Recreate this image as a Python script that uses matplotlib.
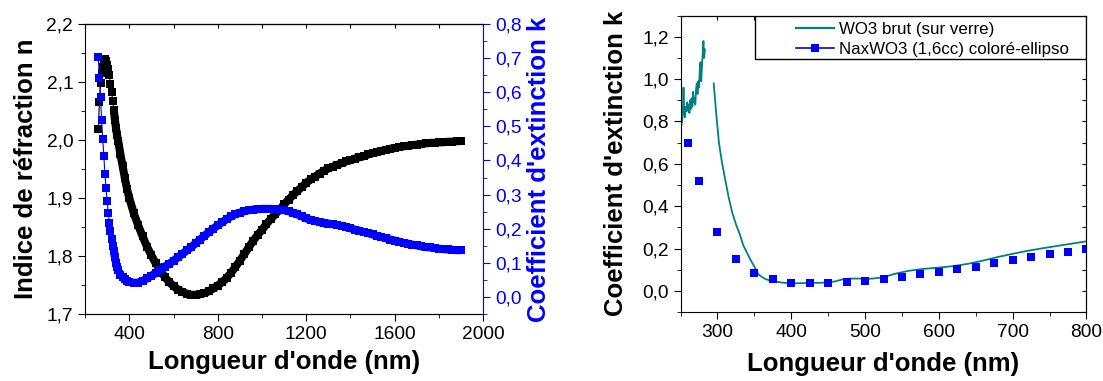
import numpy as np
import matplotlib.pyplot as plt
from matplotlib.ticker import MultipleLocator, FuncFormatter
from matplotlib.lines import Line2D
from matplotlib.patches import Rectangle

plt.rcParams['font.family'] = ['Liberation Sans', 'DejaVu Sans']

# --- left panel: n and k of the film vs wavelength (ellipsometry) ---
wl_ell = [260, 265, 270, 275, 280, 285, 290, 295, 300, 305, 310, 315, 320, 325, 330, 335, 340, 345, 350,
          360, 370, 380, 390, 400,
          420, 440, 460, 480, 500, 520, 540, 560, 580, 600, 620, 640, 660, 680, 700, 720, 740, 760, 780, 800,
          820, 840, 860, 880, 900, 920, 940, 960, 980, 1000, 1020, 1040, 1060, 1080, 1100, 1120, 1140, 1160, 1180,
          1200, 1220, 1240, 1260, 1280, 1300, 1320, 1340, 1360, 1380, 1400, 1420, 1440, 1460, 1480, 1500, 1520,
          1540, 1560, 1580, 1600, 1620, 1640, 1660, 1680, 1700, 1720, 1740, 1760, 1780, 1800, 1820, 1840, 1860,
          1880, 1900]
n_ell = [2.019, 2.066, 2.098, 2.115, 2.126, 2.135, 2.139, 2.137, 2.130, 2.122, 2.112, 2.096, 2.082, 2.068, 2.052,
         2.035, 2.020, 2.008, 1.998,
         1.975, 1.955, 1.934, 1.915, 1.900,
         1.874, 1.853, 1.834, 1.816, 1.801, 1.787, 1.775, 1.764, 1.755, 1.748, 1.742, 1.738, 1.735, 1.733, 1.733,
         1.734, 1.736, 1.739, 1.744, 1.749, 1.755, 1.762, 1.771, 1.781, 1.792, 1.803, 1.815, 1.826, 1.836, 1.845,
         1.855, 1.864, 1.872, 1.880, 1.889, 1.897, 1.905, 1.912, 1.919,
         1.926, 1.932, 1.937, 1.942, 1.947, 1.951, 1.954, 1.957, 1.960, 1.963, 1.965, 1.968, 1.970, 1.972, 1.975,
         1.977, 1.979, 1.981, 1.983, 1.985, 1.986, 1.988, 1.989, 1.990, 1.991, 1.992, 1.993, 1.994, 1.995, 1.995,
         1.996, 1.996, 1.997, 1.997, 1.998, 1.998]
k_ell = [0.702, 0.641, 0.585, 0.518, 0.462, 0.412, 0.360, 0.318, 0.282, 0.247, 0.218, 0.193, 0.170, 0.150, 0.135,
         0.116, 0.100, 0.088, 0.078,
         0.065, 0.057, 0.051, 0.047, 0.044,
         0.041, 0.042, 0.047, 0.054, 0.062, 0.070, 0.079, 0.088, 0.097, 0.106, 0.116, 0.126, 0.136, 0.146, 0.157,
         0.168, 0.179, 0.190, 0.200, 0.210, 0.219, 0.228, 0.236, 0.242, 0.247, 0.251, 0.254, 0.256, 0.257, 0.258,
         0.258, 0.258, 0.257, 0.256, 0.254, 0.251, 0.247, 0.242, 0.236,
         0.230, 0.226, 0.223, 0.219, 0.217, 0.215, 0.213, 0.211, 0.208, 0.205, 0.201, 0.197, 0.194, 0.190, 0.187,
         0.183, 0.179, 0.176, 0.172, 0.168, 0.165, 0.162, 0.158, 0.156, 0.153, 0.151, 0.148, 0.146, 0.145, 0.143,
         0.141, 0.140, 0.139, 0.138, 0.137, 0.137]

# --- right panel: k of raw WO3 (on glass) vs coloured NaxWO3 ---
wl_brut = [251, 252, 253, 254, 255, 256, 257, 258, 259, 260, 261, 262, 263, 264, 265, 266, 267, 268, 269, 270,
           271, 272, 273, 274, 275, 276, 277, 278, 279, 280, 281, 282, 283, 289,
           295, 298, 302, 306, 310, 315, 320, 325, 330, 335, 340, 345, 350, 355, 360, 365, 370, 380, 390, 400,
           410, 420, 430, 440, 450, 460, 470, 480, 490, 500, 510, 520, 530, 540, 550, 560, 570, 580, 590, 600,
           620, 640, 660, 680, 700, 720, 740, 760, 780, 800]
k_brut = [0.78, 0.80, 0.83, 0.96, 0.84, 0.82, 0.87, 0.85, 0.89, 0.85, 0.88, 0.84, 0.90, 0.86, 0.91, 0.87, 0.94,
          0.89, 0.91, 0.88, 0.95, 0.98, 0.93, 0.99, 0.96, 1.04, 1.08, 0.99, 1.06, 1.12, 1.18, 1.10, 1.14, np.nan,
          0.98, 0.85, 0.70, 0.61, 0.535, 0.445, 0.37, 0.315, 0.27, 0.215, 0.18, 0.145, 0.115, 0.08, 0.066, 0.056,
          0.05, 0.043, 0.038, 0.036, 0.036, 0.037, 0.038, 0.038, 0.040, 0.045, 0.055, 0.058, 0.058, 0.057, 0.058,
          0.062, 0.070, 0.080, 0.088, 0.095, 0.100, 0.104, 0.107, 0.110, 0.117, 0.128, 0.143, 0.160, 0.175, 0.189,
          0.201, 0.212, 0.223, 0.234]
wl_color = [260, 275, 300, 325, 350, 375, 400, 425, 450, 475, 500, 525, 550, 575, 600, 625, 650, 675, 700, 725,
            750, 775, 800]
k_color = [0.70, 0.517, 0.28, 0.15, 0.083, 0.055, 0.039, 0.036, 0.036, 0.044, 0.047, 0.058, 0.067, 0.08, 0.09,
           0.105, 0.115, 0.13, 0.146, 0.159, 0.173, 0.185, 0.198]

TEAL = '#008080'
BLUE = '#0000ff'
comma1 = FuncFormatter(lambda v, p: f"{v:.1f}".replace('.', ','))
intfmt = FuncFormatter(lambda v, p: f"{v:.0f}")
TICK_FS = 13.8
LAB_FS = 18.5

fig = plt.figure(figsize=(11.03, 3.81), dpi=100)

# left panel
ax = fig.add_axes([0.0771, 0.176, 0.361, 0.761])
ax2 = ax.twinx()
# dense symbols merge into a thick band past the steep start
i0 = wl_ell.index(330)
ax.plot(wl_ell, n_ell, '-s', color='black', lw=0.8, ms=5.5, mew=0)
ax.plot(wl_ell[i0:], n_ell[i0:], '-', color='black', lw=5.8, solid_capstyle='butt')
ax2.plot(wl_ell, k_ell, '-s', color=BLUE, lw=0.8, ms=5.5, mew=0)
ax2.plot(wl_ell[i0:], k_ell[i0:], '-', color=BLUE, lw=5.8, solid_capstyle='butt')
ax.set_xlim(200, 2000)
ax.set_ylim(1.7, 2.2)
ax2.set_ylim(-0.05, 0.8)
ax.xaxis.set_major_locator(MultipleLocator(400))
ax.xaxis.set_minor_locator(MultipleLocator(200))
ax.yaxis.set_major_locator(MultipleLocator(0.1))
ax.yaxis.set_minor_locator(MultipleLocator(0.05))
ax2.yaxis.set_major_locator(MultipleLocator(0.1))
ax2.yaxis.set_minor_locator(MultipleLocator(0.05))
ax.xaxis.set_major_formatter(intfmt)
ax.yaxis.set_major_formatter(comma1)
ax2.yaxis.set_major_formatter(comma1)
ax.tick_params(axis='both', which='major', direction='out', length=5, labelsize=TICK_FS)
ax.tick_params(axis='both', which='minor', direction='out', length=3)
ax2.tick_params(axis='y', which='major', direction='out', length=5, labelsize=TICK_FS, colors=BLUE)
ax2.tick_params(axis='y', which='minor', direction='out', length=3, colors=BLUE)
ax.spines['right'].set_visible(False)
ax2.spines['right'].set_color(BLUE)
ax2.spines['left'].set_visible(False)
top_a = ax.secondary_xaxis('top')
top_a.xaxis.set_major_locator(MultipleLocator(200))
top_a.tick_params(which='major', direction='in', length=3, labeltop=False)
ax.set_xlabel("Longueur d'onde (nm)", fontsize=LAB_FS, fontweight='bold')
ax.set_ylabel("Indice de réfraction n", fontsize=LAB_FS, fontweight='bold')
ax2.set_ylabel("Coefficient d'extinction k", fontsize=LAB_FS, fontweight='bold', color=BLUE)
ax.xaxis.set_label_coords(0.5, -0.125)
ax.yaxis.set_label_coords(-0.118, 0.5)
ax2.yaxis.set_label_coords(1.11, 0.5)

# right panel
bx = fig.add_axes([0.617, 0.181, 0.368, 0.778])
bx.plot(wl_brut, k_brut, '-', color=TEAL, lw=1.3)
bx.plot(wl_color, k_color, 's', color=BLUE, ms=5.5, mew=0, linestyle='none')
bx.set_xlim(250, 800)
bx.set_ylim(-0.1, 1.3)
bx.xaxis.set_major_locator(MultipleLocator(100))
bx.xaxis.set_minor_locator(MultipleLocator(50))
bx.yaxis.set_major_locator(MultipleLocator(0.2))
bx.yaxis.set_minor_locator(MultipleLocator(0.1))
bx.xaxis.set_major_formatter(intfmt)
bx.yaxis.set_major_formatter(comma1)
bx.tick_params(axis='both', which='major', direction='out', length=5, labelsize=TICK_FS)
bx.tick_params(axis='both', which='minor', direction='out', length=3)
top_b = bx.secondary_xaxis('top')
top_b.xaxis.set_major_locator(MultipleLocator(50))
top_b.tick_params(which='major', direction='in', length=3, labeltop=False)
right_b = bx.secondary_yaxis('right')
right_b.yaxis.set_major_locator(MultipleLocator(0.1))
right_b.tick_params(which='major', direction='in', length=3, labelright=False)
bx.set_xlabel("Longueur d'onde (nm)", fontsize=LAB_FS, fontweight='bold')
bx.set_ylabel("Coefficient d'extinction k", fontsize=LAB_FS, fontweight='bold')
bx.xaxis.set_label_coords(0.5, -0.135)
bx.yaxis.set_label_coords(-0.13, 0.5)

# legend: Origin-style box with wide left padding
bx.add_patch(Rectangle((0.183, 0.853), 0.817, 0.147, transform=bx.transAxes,
                       facecolor='white', edgecolor='black', lw=1.0, zorder=4))
handles = [Line2D([], [], color=TEAL, lw=1.6),
           Line2D([], [], color=BLUE, lw=1.2, marker='s', ms=5.5, mew=0)]
leg = bx.legend(handles, ['WO3 brut (sur verre)', 'NaxWO3 (1,6cc) coloré-ellipso'],
                loc='upper right', bbox_to_anchor=(0.97, 0.995), fontsize=12.2, frameon=False,
                borderaxespad=0, handlelength=2.25, handletextpad=0.3, borderpad=0.3, labelspacing=0.3)
leg.set_zorder(5)

fig.savefig('out.png', dpi=100)
